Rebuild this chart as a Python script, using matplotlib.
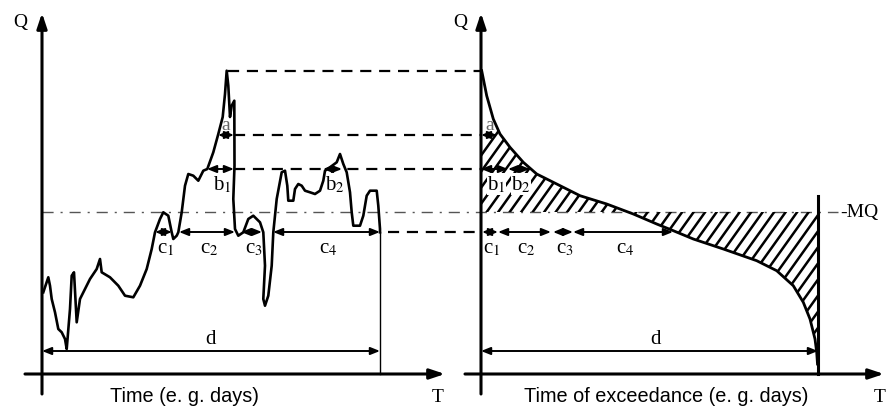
import matplotlib
matplotlib.use("Agg")
import matplotlib.pyplot as plt
import numpy as np

plt.rcParams['mathtext.fontset'] = 'stix'

# ---------------- data (schematic units: x = time, y = discharge Q) ----------------
# hydrograph (left panel)
hydro_t = [43.3, 48.3, 50, 51.7, 55, 58.3, 61.7, 65, 66.7, 70, 71.7, 74, 76.7, 80, 85, 90,
           96.7, 100, 101.7, 110, 118.3, 125, 133.3, 140, 146.7, 151.7, 155, 160, 163.3,
           168.3, 171.7, 173.3, 176.7, 178.3, 181.7, 185, 188.3, 193.3, 198.3, 203.3, 207.3,
           213.3, 218.3, 222.7, 225, 226.7, 228.3, 230, 231.7, 234.3, 234.5, 233.3, 235,
           238.3, 243.3, 248.3, 253.3, 260, 263.3, 265, 263.3, 265, 268.3, 271.7, 273.3,
           276.7, 281.7, 285, 287.3, 288.3, 293.3, 295, 298.3, 301.7, 305, 310, 315, 320,
           323.3, 325, 330, 336.7, 340, 343.3, 346.7, 350, 351.7, 353.3, 360, 363.3, 366.7,
           370, 376.7, 378.3, 380, 380]
hydro_y = [293.3, 278.3, 286.7, 300, 313.3, 330, 333.3, 340, 350, 310, 276.7, 273.3, 323.3,
           300, 290, 280, 270, 260, 273.3, 278.3, 286.7, 296.7, 298.3, 286.7, 270, 250,
           233.3, 220, 213.3, 216.7, 233.3, 240, 236.7, 233.3, 213.3, 186.7, 175, 176.7,
           181.7, 171.7, 170, 153.3, 135, 118, 95, 71.7, 86.7, 118, 106.7, 101.7, 166.7,
           200, 230, 236.7, 233.3, 220, 216.7, 223.3, 233.3, 266.7, 300, 306.7, 296.7,
           266.7, 233.3, 200, 173.3, 171.7, 186.7, 201.7, 201.7, 190, 185, 186.7, 191.7,
           193.3, 195, 191.7, 181.7, 171.7, 168.3, 163.3, 155, 165, 173.3, 193.3, 213.3,
           226.7, 226.7, 216.7, 196.7, 191.7, 191.7, 206.7, 230, 233.3]
H = 410
hydro_q = [H - v for v in hydro_y]

# flow duration curve (right panel)
dur_t = [481.7, 486.7, 493.3, 500, 510, 523.3, 536.7, 556.7, 580, 606.7, 633.3, 656.7,
         673.3, 693.3, 723.3, 756.7, 776.7, 793.3, 803.3, 810, 815, 816.7, 817.5]
dur_y = [71.7, 96.7, 120, 135, 148.3, 163.3, 175, 185, 196.7, 205, 215, 225, 231.7, 240,
         250, 261.7, 271.7, 286.7, 303.3, 320, 340, 353.3, 365]
dur_q = [H - v for v in dur_y]

# threshold levels (Q)
q_peak, q_a, q_b, q_mq, q_c = H - 72, H - 136, H - 170, H - 213, H - 233
d_end_left, d_end_right = 380, 818

# exceedance segments
a_left, a_right = (218, 234), (481, 497)
b_left = {'b$_1$': (207, 234), 'b$_2$': (323, 342)}
b_right = {'b$_1$': (481, 508), 'b$_2$': (508, 530)}
c_left = {'c$_1$': (155, 172), 'c$_2$': (179, 235), 'c$_3$': (241, 262), 'c$_4$': (273, 380)}
c_right = {'c$_1$': (482, 498), 'c$_2$': (498, 551), 'c$_3$': (553, 573), 'c$_4$': (573, 673)}

# ---------------- drawing ----------------
fig = plt.figure(figsize=(8.89, 4.10), dpi=100)
ax = fig.add_axes([0, 0, 1, 1])
ax.set_xlim(0, 889)
ax.set_ylim(0, 410)
ax.axis('off')

serif = 'Liberation Serif'
sans = 'Liberation Sans'

def arrow(x0, x1, y0, y1, style='-|>', lw=1.6, hw=0.25, hl=0.6):
    ax.annotate('', xy=(x1, y1), xytext=(x0, y0),
                arrowprops=dict(arrowstyle=f'{style},head_width={hw},head_length={hl}',
                                color='black', lw=lw, shrinkA=0, shrinkB=0))

def darrow(x0, x1, y, lw=1.4):
    ax.annotate('', xy=(x1, y), xytext=(x0, y),
                arrowprops=dict(arrowstyle='<|-|>,head_width=0.22,head_length=0.55',
                                color='black', lw=lw, shrinkA=0, shrinkB=0))

# axes (left)
arrow(42, 42, H - 395, H - 14, lw=2.2, hw=0.3, hl=0.9)
arrow(25, 445, H - 375, H - 375, lw=2.2, hw=0.3, hl=0.9)
# axes (right)
arrow(481, 481, H - 395, H - 14, lw=2.2, hw=0.3, hl=0.9)
arrow(465, 884, H - 375, H - 375, lw=2.2, hw=0.3, hl=0.9)

ax.text(20, H - 22, 'Q', family=serif, fontsize=14, ha='center', va='center')
ax.text(460, H - 22, 'Q', family=serif, fontsize=14, ha='center', va='center')
ax.text(438, H - 398, 'T', family=serif, fontsize=14, ha='center', va='center')
ax.text(880, H - 398, 'T', family=serif, fontsize=14, ha='center', va='center')
ax.text(184, H - 397, 'Time (e. g. days)', family=sans, fontsize=14.3, ha='center', va='center')
ax.text(666, H - 397, 'Time of exceedance (e. g. days)', family=sans, fontsize=14.3,
        ha='center', va='center')

# MQ line
ax.plot([42, 838], [q_mq, q_mq], color='#555555', lw=1.0, ls=(0, (8, 5, 1.5, 5)))
ax.text(840, q_mq, '-MQ', family=serif, fontsize=14, ha='left', va='center')

# dashed connector lines
for xs, q in [(228, q_peak), (234, q_a), (234, q_b), (388, q_c)]:
    ax.plot([xs, 482], [q, q], color='black', lw=1.6, ls=(0, (5, 3.5)))

# hatched area between duration curve and MQ (manual hatch clipped to the region)
dt = np.array(dur_t)
dq = np.array(dur_q)
region = ax.fill_between(dt, dq, q_mq, facecolor='none', lw=0)
clip_path = region.get_paths()[0]
slope, spacing = 1.4, 11.5
for x0 in np.arange(300, 900, spacing):
    xs = np.array([x0, x0 + 400 / slope])
    ys = np.array([0, 400])
    ln, = ax.plot(xs, ys, color='black', lw=1.8)
    ln.set_clip_path(clip_path, ax.transData)

# hydrograph & duration curve
ax.plot(hydro_t, hydro_q, color='black', lw=1.9, solid_joinstyle='round')
ax.plot(dur_t, dur_q, color='black', lw=2.0)
ax.plot([d_end_left, d_end_left], [H - 375, q_c], color='black', lw=1.0)
ax.plot([d_end_right, d_end_right], [H - 375, H - 197], color='black', lw=2.2)

# a arrows
darrow(*a_left, q_a)
darrow(*a_right, q_a)
ax.text(226, q_a + 11, 'a', family=serif, fontsize=14, ha='center', va='center', color='#666666')
ax.text(490, q_a + 11, 'a', family=serif, fontsize=14, ha='center', va='center', color='#666666')

# b arrows
for lab, (x0, x1) in b_left.items():
    darrow(x0, x1, q_b)
    ax.text((x0 + x1) / 2 + 2, q_b - 15, lab, family=serif, fontsize=15, ha='center', va='center')
for lab, (x0, x1) in b_right.items():
    darrow(x0, x1, q_b)
    ax.text((x0 + x1) / 2 + 2, q_b - 15, lab, family=serif, fontsize=15, ha='center', va='center',
            bbox=dict(facecolor='white', edgecolor='none', pad=0.2))

# c arrows
for lab, (x0, x1) in c_left.items():
    darrow(x0, x1, q_c)
    ax.text((x0 + x1) / 2 + 2, q_c - 16, lab, family=serif, fontsize=15, ha='center', va='center')
for lab, (x0, x1) in c_right.items():
    darrow(x0, x1, q_c)
    ax.text((x0 + x1) / 2 + 2, q_c - 16, lab, family=serif, fontsize=15, ha='center', va='center')

# d arrows
darrow(42, d_end_left, H - 352)
darrow(481, d_end_right, H - 352)
ax.text((42 + d_end_left) / 2, H - 340, 'd', family=serif, fontsize=15, ha='center', va='center')
ax.text((481 + d_end_right) / 2 + 6, H - 340, 'd', family=serif, fontsize=15, ha='center', va='center')

fig.savefig('out.png', dpi=100, facecolor='white')
